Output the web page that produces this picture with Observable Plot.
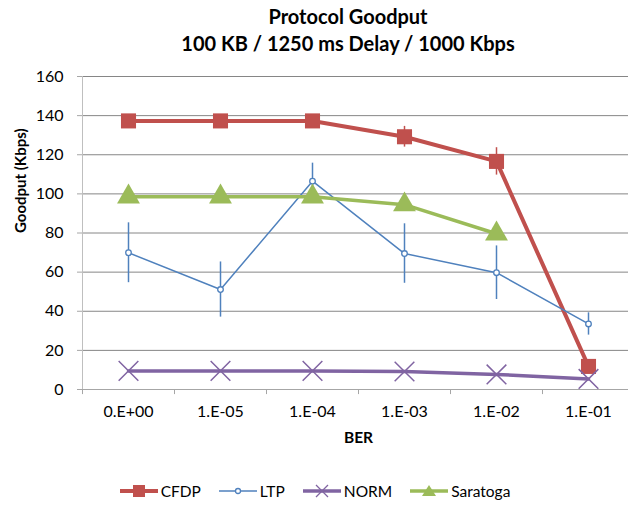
<!DOCTYPE html>
<html><head><meta charset="utf-8">
<script src="https://cdn.jsdelivr.net/npm/d3@7"></script>
<script src="https://cdn.jsdelivr.net/npm/@observablehq/plot@0.6"></script>
<style>
body{margin:0;background:#fff;font-family:Lato,"Open Sans",sans-serif;color:#000;}
#wrap{width:628px;height:508px;overflow:hidden;}
#title{box-sizing:border-box;height:60px;padding-top:3px;padding-left:68px;text-align:center;font-weight:bold;font-size:20px;line-height:27px;}
#legend{box-sizing:border-box;height:48px;padding-top:22px;padding-left:2px;display:flex;justify-content:center;font-size:15.5px;}
.item{display:flex;align-items:center;height:18px;margin:0 9px;}
.item svg{margin-right:3px;}
svg{display:block;}
#plot svg g[aria-label="x-axis"], #plot svg g[aria-label="y-axis"],
#plot svg g[aria-label="x-axis"] text, #plot svg g[aria-label="y-axis"] text,
#plot svg g[aria-label$="tick label"], #plot svg g[aria-label$="tick label"] text {font-size:16px !important;}
#plot svg g[aria-label="y-axis"] line, #plot svg g[aria-label="y-axis tick"] path {stroke:#a6a6a6 !important;}
</style></head>
<body><div id="wrap">
<div id="title"><div>Protocol Goodput</div><div>100 KB / 1250 ms Delay / 1000 Kbps</div></div>
<div id="plot"></div>
<div id="legend"></div>
</div>
<script>
const categories = ["0.E+00","1.E-05","1.E-04","1.E-03","1.E-02","1.E-01"];
const cfdp = [137.3,137.3,137.3,129.2,116.6,11.8];
const cfdpErr = [0,0,0,5.3,7,0];
const ltp = [69.9,51.1,106.5,69.5,59.7,33.5];
const ltpErr = [15.3,14.1,9.2,15.2,13.7,5.7];
const norm = [9.5,9.5,9.5,9.2,7.7,5.4];
const saratoga = [98.5,98.5,98.5,94.5,79.6,null];
const yTicks = [0,20,40,60,80,100,120,140,160];
const seriesNames = ["CFDP","LTP","NORM","Saratoga"];
const colors = {CFDP:"#C0504D", LTP:"#4F81BD", NORM:"#8064A2", Saratoga:"#9BBB59"};

const rows = (vals, errs) => vals.map((v,i)=>({i, v, e: errs ? errs[i] : 0})).filter(d=>d.v!=null);
const cf = rows(cfdp, cfdpErr), lt = rows(ltp, ltpErr), no = rows(norm), sa = rows(saratoga);
const bounds = d3.range(categories.length+1).map(i=>i-0.5);

const chart = Plot.plot({
  width: 628, height: 400,
  marginTop: 16, marginBottom: 71, marginLeft: 82, marginRight: 0,
  x: {domain: [-0.5, categories.length-0.5], range: [82, 634], ticks: d3.range(categories.length),
      tickFormat: i => categories[i], tickSize: 0, tickPadding: 16, label: null},
  y: {domain: [0,160], ticks: yTicks, tickSize: 5, tickPadding: 14, label: null},
  style: {fontFamily: "Lato, 'Open Sans', sans-serif", fontSize: "16px", color: "#000", background: "#fff", overflow: "hidden"},
  marks: [
    Plot.ruleY(yTicks.filter(t=>t>0), {stroke: "#868686", strokeWidth: 1}),
    Plot.ruleY([0], {stroke: "#a6a6a6", strokeWidth: 1}),
    Plot.ruleX([bounds[0]], {y1: 0, y2: 160, stroke: "#bfbfbf", strokeWidth: 1}),
    Plot.ruleX(bounds, {y1: 0, y2: -2.6, stroke: "#a6a6a6", strokeWidth: 1}),
    // CFDP
    Plot.line(cf, {x: "i", y: "v", stroke: colors.CFDP, strokeWidth: 4}),
    Plot.ruleX(cf.filter(d=>d.e>0), {x: "i", y1: d=>d.v-d.e, y2: d=>d.v+d.e, stroke: colors.CFDP, strokeWidth: 1.5}),
    Plot.dot(cf, {x: "i", y: "v", symbol: "square", r: 8.5, fill: colors.CFDP, stroke: "none"}),
    // LTP
    Plot.line(lt, {x: "i", y: "v", stroke: colors.LTP, strokeWidth: 1.5}),
    Plot.ruleX(lt, {x: "i", y1: d=>d.v-d.e, y2: d=>d.v+d.e, stroke: colors.LTP, strokeWidth: 1.5}),
    Plot.dot(lt, {x: "i", y: "v", r: 2.8, fill: "#fff", stroke: colors.LTP, strokeWidth: 1.3}),
    // NORM
    Plot.line(no, {x: "i", y: "v", stroke: colors.NORM, strokeWidth: 3.5}),
    Plot.dot(no, {x: "i", y: "v", symbol: "times", r: 9, stroke: colors.NORM, strokeWidth: 1.5}),
    // Saratoga
    Plot.line(sa, {x: "i", y: "v", stroke: colors.Saratoga, strokeWidth: 3.5}),
    Plot.dot(sa, {x: "i", y: "v", symbol: "triangle", r: 8.5, fill: colors.Saratoga, stroke: "none"}),
    // axis titles
    Plot.text(["Goodput (Kbps)"], {frameAnchor: "left", dx: -61, rotate: -90, fontWeight: "bold", fontSize: 15}),
    Plot.text(["BER"], {frameAnchor: "bottom", dx: 3, dy: 53, fontWeight: "bold", fontSize: 15.5})
  ]
});
document.getElementById("plot").appendChild(chart);

// legend
const leg = d3.select("#legend");
seriesNames.forEach(name=>{
  const it = leg.append("div").attr("class","item");
  const s = it.append("svg").attr("width",38).attr("height",18);
  const c = colors[name];
  const sw = name==="LTP" ? 1.5 : (name==="CFDP" ? 4 : 3.5);
  s.append("line").attr("x1",0).attr("x2",38).attr("y1",9).attr("y2",9).attr("stroke",c).attr("stroke-width",sw);
  if (name==="CFDP") s.append("rect").attr("x",13).attr("y",3).attr("width",12).attr("height",12).attr("fill",c);
  if (name==="LTP") s.append("circle").attr("cx",19).attr("cy",9).attr("r",2.5).attr("fill","#fff").attr("stroke",c).attr("stroke-width",1.3);
  if (name==="NORM") s.append("path").attr("d","M13,3L25,15M25,3L13,15").attr("stroke",c).attr("stroke-width",1.3);
  if (name==="Saratoga") s.append("path").attr("d","M19,3L26,14L12,14Z").attr("fill",c);
  it.append("span").text(name);
});
</script>
</body></html>
